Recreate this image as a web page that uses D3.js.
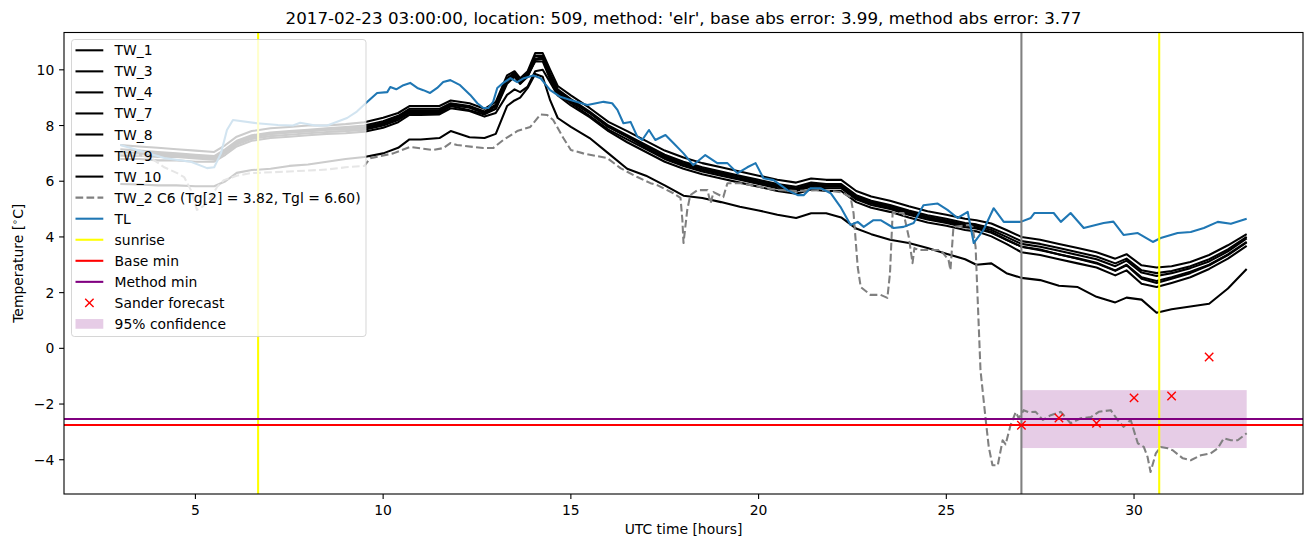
<!DOCTYPE html>
<html><head><meta charset="utf-8">
<script src="https://cdn.jsdelivr.net/npm/d3@7"></script>
<style>body{margin:0;background:#fff}svg{display:block}text{font-family:"DejaVu Sans",sans-serif;fill:#000}</style>
</head><body><svg id="c" width="1313" height="547"></svg>
<script>
// ---------------- data ----------------
const titleText = "2017-02-23 03:00:00, location: 509, method: 'elr', base abs error: 3.99, method abs error: 3.77";
const xTicks = [5, 10, 15, 20, 25, 30];
const yTicks = [-4, -2, 0, 2, 4, 6, 8, 10];

const twTimes = [3,3.5,4,4.5,5,5.5,5.8,6.1,6.5,7,
 7.5,8,8.5,9,9.5,10,10.4,10.7,11,11.5,
 11.8,12.3,12.7,13.0,13.3,13.5,13.65,13.85,14.05,14.25,
 14.45,14.65,15.0,15.5,16,16.5,17,17.5,18,18.5,
 19,19.5,20,20.5,21,21.4,21.8,22.2,22.6,23,
 23.5,24,24.5,25,25.5,25.8,26.2,26.6,27,27.5,
 28,28.5,29,29.5,29.8,30.2,30.6,31,31.5,32,
 32.5,33];
const tw1 = [7.3,7.25,7.2,7.15,7.1,7.05,7.3,7.6,7.8,7.9,
 7.95,8.0,8.0,8.05,8.12,8.28,8.45,8.7,8.7,8.7,
 8.9,8.8,8.6,8.85,9.8,9.95,9.7,9.95,10.6,10.6,
 10.0,9.42,9.08,8.63,8.13,7.8,7.45,7.1,6.85,6.65,
 6.5,6.35,6.2,6.05,5.95,6.1,6.05,6.05,5.65,5.45,
 5.3,5.1,4.92,4.8,4.65,4.6,4.48,4.25,4.0,3.9,
 3.75,3.6,3.45,3.22,3.38,2.98,2.9,2.95,3.1,3.35,
 3.7,4.1];
const tw3 = [7.15,7.1,7.05,7.0,6.95,6.9,7.15,7.45,7.65,7.75,
 7.8,7.85,7.9,7.95,8.0,8.15,8.35,8.6,8.6,8.6,
 8.8,8.7,8.5,8.75,9.7,9.9,9.6,9.9,10.5,10.5,
 9.85,9.3,8.95,8.5,8.0,7.65,7.3,6.95,6.7,6.5,
 6.35,6.2,6.05,5.9,5.8,5.95,5.9,5.9,5.5,5.3,
 5.15,4.95,4.78,4.65,4.5,4.45,4.32,4.1,3.85,3.75,
 3.6,3.45,3.3,3.05,3.22,2.8,2.7,2.78,2.95,3.2,
 3.55,4.0];
const tw4 = [7.05,7.0,7.0,6.95,6.9,6.85,7.1,7.4,7.6,7.7,
 7.75,7.8,7.85,7.9,7.95,8.1,8.3,8.55,8.55,8.55,
 8.75,8.65,8.45,8.7,9.65,9.85,9.55,9.85,10.4,10.45,
 9.8,9.25,8.9,8.45,7.95,7.6,7.25,6.9,6.65,6.45,
 6.3,6.15,6.0,5.85,5.75,5.9,5.85,5.85,5.45,5.25,
 5.1,4.9,4.72,4.6,4.45,4.4,4.25,4.0,3.75,3.65,
 3.5,3.35,3.2,2.95,3.15,2.72,2.6,2.7,2.88,3.12,
 3.48,3.95];
const tw7 = [6.92,6.92,6.87,6.87,6.82,6.77,7.02,7.32,7.52,7.62,
 7.67,7.72,7.77,7.8,7.85,8.0,8.2,8.45,8.45,8.45,
 8.7,8.55,8.4,8.6,9.6,9.8,9.5,9.8,10.3,10.3,
 9.65,9.15,8.8,8.35,7.85,7.5,7.15,6.8,6.55,6.35,
 6.2,6.05,5.9,5.75,5.65,5.8,5.75,5.75,5.35,5.15,
 5.0,4.8,4.63,4.5,4.35,4.3,4.15,3.9,3.65,3.55,
 3.37,3.23,3.07,2.8,3.0,2.55,2.42,2.55,2.75,3.0,
 3.37,3.82];
const tw8 = [6.8,6.8,6.75,6.75,6.7,6.7,6.95,7.25,7.45,7.55,
 7.6,7.65,7.7,7.72,7.78,7.92,8.12,8.38,8.38,8.4,
 8.62,8.52,8.32,8.45,9.1,9.3,9.2,9.4,9.95,10.0,
 9.55,9.08,8.72,8.3,7.8,7.4,7.05,6.7,6.45,6.25,
 6.1,5.95,5.8,5.65,5.55,5.7,5.65,5.65,5.25,5.05,
 4.9,4.7,4.52,4.4,4.25,4.2,4.02,3.75,3.45,3.35,
 3.2,3.05,2.9,2.62,2.8,2.32,2.2,2.35,2.55,2.85,
 3.22,3.68];
const tw9 = [7.0,6.95,6.95,6.9,6.85,6.8,7.05,7.35,7.55,7.7,
 7.75,7.8,7.85,7.85,7.9,8.05,8.25,8.5,8.5,8.5,
 8.75,8.65,8.45,8.6,9.5,9.75,9.5,9.75,10.35,10.4,
 9.75,9.2,8.85,8.45,7.95,7.6,7.2,6.85,6.6,6.4,
 6.25,6.1,5.95,5.8,5.7,5.85,5.8,5.8,5.4,5.2,
 5.05,4.85,4.68,4.55,4.4,4.35,4.18,3.9,3.65,3.52,
 3.38,3.22,3.05,2.78,2.98,2.5,2.35,2.5,2.7,2.98,
 3.35,3.8];
const tw10 = [5.9,5.88,5.85,5.85,5.82,5.82,6.0,6.3,6.4,6.45,
 6.55,6.6,6.7,6.8,6.87,7.0,7.2,7.5,7.5,7.55,
 7.8,7.58,7.55,7.7,8.7,8.9,9.0,9.35,9.85,9.75,
 8.9,8.27,7.95,7.55,7.0,6.45,6.2,5.85,5.48,5.4,
 5.25,5.08,4.95,4.8,4.68,4.85,4.85,4.7,4.3,4.1,
 3.9,3.78,3.6,3.4,3.2,3.0,3.05,2.7,2.53,2.45,
 2.25,2.2,1.85,1.65,1.82,1.75,1.28,1.4,1.5,1.6,
 2.15,2.85];

const tw2Times = [3.0,3.5,3.8,4.17,4.5,4.7,4.88,5.04,5.2,5.42,
 5.58,5.76,6.1,6.48,7.5,8.5,9.0,9.5,9.66,10.27,
 10.72,11.33,11.6,11.79,11.97,12.67,12.93,13.2,13.57,13.92,
 14.19,14.37,14.53,14.8,15.0,15.33,15.97,16.32,16.77,17.12,
 17.3,17.73,17.92,17.97,18.0,18.1,18.18,18.37,18.64,18.72,
 18.8,19.06,19.17,19.52,20.4,21.0,21.73,22.2,22.45,22.53,
 22.64,22.72,22.98,23.25,23.43,23.5,23.57,23.86,24.0,24.1,
 24.15,24.26,24.85,25.06,25.11,25.19,25.59,25.7,25.78,25.91,
 26.05,26.13,26.23,26.37,26.5,26.58,26.71,26.85,26.93,27.06,
 27.19,27.38,27.57,27.78,28.05,28.31,28.58,28.85,29.06,29.38,
 29.56,29.72,29.91,30.1,30.26,30.36,30.44,30.58,30.71,30.9,
 31.03,31.3,31.51,31.78,32.04,32.23,32.39,32.58,32.76,33.0];
const tw2Values = [7.0,6.95,6.85,6.5,6.3,6.15,5.68,4.97,5.1,5.43,
 5.8,6.04,6.2,6.29,6.35,6.42,6.5,6.55,6.83,7.0,
 7.23,7.12,7.19,7.37,7.3,7.19,7.19,7.48,7.8,7.95,
 8.4,8.38,8.2,7.55,7.12,7.0,6.83,6.47,6.15,5.93,
 5.86,5.57,5.4,4.61,3.78,4.97,5.5,5.68,5.68,5.2,
 5.61,5.43,5.93,5.93,5.7,5.65,5.68,5.6,5.43,4.85,
 2.92,2.2,1.92,1.92,1.81,2.7,4.86,4.86,4.0,3.06,
 3.6,3.53,3.53,3.17,2.81,4.36,4.43,4.36,3.64,-0.78,
 -2.58,-3.54,-4.2,-4.2,-3.3,-3.45,-2.76,-2.29,-2.51,-2.22,
 -2.29,-2.28,-2.57,-2.4,-2.28,-2.69,-2.51,-2.47,-2.28,-2.22,
 -2.57,-2.82,-2.57,-3.41,-3.54,-3.9,-4.44,-3.77,-3.54,-3.59,
 -3.66,-3.95,-4.02,-3.84,-3.77,-3.59,-3.23,-3.3,-3.3,-3.05];

const tlTimes = [3.0,3.5,4.17,4.88,5.31,5.5,5.68,5.84,6.0,6.64,
 7.2,7.6,7.79,8.2,8.51,9.04,9.3,9.58,9.84,10.11,
 10.19,10.35,10.54,10.72,10.91,11.07,11.25,11.44,11.6,11.79,
 12.05,12.32,12.51,12.67,12.8,12.93,13.04,13.2,13.39,13.57,
 13.75,14.0,14.19,14.45,14.72,14.99,15.44,15.87,16.1,16.24,
 16.4,16.59,16.77,16.9,17.08,17.25,17.52,17.73,18.0,18.26,
 18.58,18.9,19.17,19.44,19.7,19.92,20.13,20.4,20.77,21.04,
 21.2,21.38,21.65,21.92,22.18,22.45,22.64,22.8,23.06,23.25,
 23.6,23.86,24.13,24.39,24.77,25.03,25.3,25.57,25.73,25.99,
 26.26,26.53,26.98,27.25,27.35,27.86,28.05,28.31,28.66,29.19,
 29.45,29.72,30.1,30.5,30.71,31.16,31.51,31.86,32.23,32.58,33.0];
const tlValues = [7.3,7.1,6.83,6.7,6.47,6.5,7.0,7.84,8.2,8.08,
 8.02,8.0,8.1,8.0,8.0,8.27,8.5,8.85,9.17,9.2,
 9.38,9.3,9.45,9.53,9.35,9.27,9.17,9.35,9.56,9.63,
 9.45,9.1,8.8,8.63,8.63,8.85,9.35,9.53,9.7,9.56,
 9.7,9.8,9.7,9.27,9.03,8.92,8.74,8.85,8.8,8.56,
 8.08,8.13,7.6,7.48,7.84,7.48,7.66,7.37,7.0,6.58,
 6.94,6.65,6.65,6.29,6.5,6.65,6.11,6.04,5.68,5.5,
 5.5,5.75,5.75,5.57,5.08,4.43,4.54,4.36,4.6,4.6,
 4.32,4.36,4.5,5.14,5.2,4.97,4.68,4.9,3.78,4.25,
 5.03,4.54,4.54,4.68,4.86,4.86,4.54,4.86,4.32,4.5,
 4.55,4.07,4.14,3.82,3.96,4.14,4.18,4.32,4.54,4.47,4.65];

const sunriseTimes = [6.67, 30.67];
const forecastTime = 27;
const baseMin = -2.75;
const methodMin = -2.54;
const sanderTimes = [27, 28, 29, 30, 31, 32];
const sanderValues = [-2.76, -2.5, -2.69, -1.78, -1.71, -0.31];
const confTimes = [27, 33];
const confRange = [-3.58, -1.5];

const twNames = ["TW_1", "TW_3", "TW_4", "TW_7", "TW_8", "TW_9", "TW_10"];
const legendLabels = ["TW_1","TW_3","TW_4","TW_7","TW_8","TW_9","TW_10",
 "TW_2 C6 (Tg[2] = 3.82, Tgl = 6.60)","TL","sunrise","Base min","Method min","Sander forecast","95% confidence"];

// ---------------- drawing ----------------
const svg = d3.select("#c");
const L = 64, R = 1303, T = 32.5, B = 494;
const x = d3.scaleLinear().domain([1.5, 34.5]).range([L, R]);
const y = d3.scaleLinear().domain([-5.23, 11.34]).range([B, T]);
const LW = 2.08;

svg.append("defs").append("clipPath").attr("id", "clip")
  .append("rect").attr("x", L).attr("y", T).attr("width", R - L).attr("height", B - T);
const g = svg.append("g").attr("clip-path", "url(#clip)");

// confidence band
g.append("rect")
  .attr("x", x(confTimes[0])).attr("width", x(confTimes[1]) - x(confTimes[0]))
  .attr("y", y(confRange[1])).attr("height", y(confRange[0]) - y(confRange[1]))
  .attr("fill", "purple").attr("fill-opacity", 0.2);

const line = d3.line().x(d => x(d[0])).y(d => y(d[1]));
const twSeries = [tw1, tw3, tw4, tw7, tw8, tw9, tw10];
twSeries.forEach(vals => {
  g.append("path").datum(d3.zip(twTimes, vals)).attr("d", line)
    .attr("fill", "none").attr("stroke", "black").attr("stroke-width", LW)
    .attr("stroke-linejoin", "round");
});
g.append("path").datum(d3.zip(tw2Times, tw2Values)).attr("d", line)
  .attr("fill", "none").attr("stroke", "#808080").attr("stroke-width", LW)
  .attr("stroke-dasharray", "7.7,3.3").attr("stroke-linejoin", "round");
g.append("path").datum(d3.zip(tlTimes, tlValues)).attr("d", line)
  .attr("fill", "none").attr("stroke", "#1f77b4").attr("stroke-width", LW)
  .attr("stroke-linejoin", "round");

sunriseTimes.forEach(t => {
  g.append("line").attr("x1", x(t)).attr("x2", x(t)).attr("y1", T).attr("y2", B)
    .attr("stroke", "yellow").attr("stroke-width", LW);
});
g.append("line").attr("x1", x(forecastTime)).attr("x2", x(forecastTime)).attr("y1", T).attr("y2", B)
  .attr("stroke", "#808080").attr("stroke-width", LW);
g.append("line").attr("x1", L).attr("x2", R).attr("y1", y(baseMin)).attr("y2", y(baseMin))
  .attr("stroke", "red").attr("stroke-width", LW);
g.append("line").attr("x1", L).attr("x2", R).attr("y1", y(methodMin)).attr("y2", y(methodMin))
  .attr("stroke", "purple").attr("stroke-width", LW);

function cross(sel, cx, cy, s) {
  sel.append("path").attr("d", `M${cx - s},${cy - s}L${cx + s},${cy + s}M${cx - s},${cy + s}L${cx + s},${cy - s}`)
    .attr("stroke", "red").attr("stroke-width", 1.4).attr("fill", "none");
}
sanderTimes.forEach((t, i) => cross(g, x(t), y(sanderValues[i]), 4.2));

// ---------------- legend ----------------
const lg = svg.append("g");
lg.append("rect").attr("x", 71.5).attr("y", 39.5).attr("width", 294.5).attr("height", 297)
  .attr("rx", 3).attr("fill", "white").attr("fill-opacity", 0.8)
  .attr("stroke", "#cccccc").attr("stroke-opacity", 0.8).attr("stroke-width", 1);
const hx0 = 75.5, hx1 = 103.3, tx = 114.6, ry0 = 50.3, rstep = 21.05;
legendLabels.forEach((lab, i) => {
  const cy = ry0 + i * rstep;
  if (i < 7) {
    lg.append("line").attr("x1", hx0).attr("x2", hx1).attr("y1", cy).attr("y2", cy).attr("stroke", "black").attr("stroke-width", LW);
  } else if (i === 7) {
    lg.append("line").attr("x1", hx0).attr("x2", hx1).attr("y1", cy).attr("y2", cy).attr("stroke", "#808080").attr("stroke-width", LW).attr("stroke-dasharray", "7.7,3.3");
  } else if (i === 8) {
    lg.append("line").attr("x1", hx0).attr("x2", hx1).attr("y1", cy).attr("y2", cy).attr("stroke", "#1f77b4").attr("stroke-width", LW);
  } else if (i === 9) {
    lg.append("line").attr("x1", hx0).attr("x2", hx1).attr("y1", cy).attr("y2", cy).attr("stroke", "yellow").attr("stroke-width", LW);
  } else if (i === 10) {
    lg.append("line").attr("x1", hx0).attr("x2", hx1).attr("y1", cy).attr("y2", cy).attr("stroke", "red").attr("stroke-width", LW);
  } else if (i === 11) {
    lg.append("line").attr("x1", hx0).attr("x2", hx1).attr("y1", cy).attr("y2", cy).attr("stroke", "purple").attr("stroke-width", LW);
  } else if (i === 12) {
    cross(lg, (hx0 + hx1) / 2, cy, 4.2);
  } else {
    lg.append("rect").attr("x", hx0).attr("y", cy - 4.9).attr("width", hx1 - hx0).attr("height", 9.7)
      .attr("fill", "purple").attr("fill-opacity", 0.2);
  }
  lg.append("text").attr("x", tx).attr("y", cy).attr("dy", "0.36em").attr("font-size", 13.9).text(lab);
});

// ---------------- axes ----------------
const ax = svg.append("g");
ax.append("rect").attr("x", L).attr("y", T).attr("width", R - L).attr("height", B - T)
  .attr("fill", "none").attr("stroke", "black").attr("stroke-width", 1.1);
xTicks.forEach(t => {
  ax.append("line").attr("x1", x(t)).attr("x2", x(t)).attr("y1", B).attr("y2", B + 4.9).attr("stroke", "black").attr("stroke-width", 1.1);
  ax.append("text").attr("x", x(t)).attr("y", B + 9.7).attr("dy", "0.8em").attr("text-anchor", "middle").attr("font-size", 13.9).text(d3.format("d")(t));
});
yTicks.forEach(t => {
  ax.append("line").attr("x1", L - 4.9).attr("x2", L).attr("y1", y(t)).attr("y2", y(t)).attr("stroke", "black").attr("stroke-width", 1.1);
  ax.append("text").attr("x", L - 9.7).attr("y", y(t)).attr("dy", "0.36em").attr("text-anchor", "end").attr("font-size", 13.9).text(d3.format("d")(t));
});
ax.append("text").attr("x", (L + R) / 2).attr("y", 534).attr("text-anchor", "middle").attr("font-size", 13.9).text("UTC time [hours]");
const yl = ax.append("text").attr("transform", `translate(23,${(T + B) / 2}) rotate(-90)`).attr("text-anchor", "middle").attr("font-size", 13.9);
yl.append("tspan").text("Temperature [");
yl.append("tspan").attr("font-size", 9.7).attr("dy", -5).text("\u2218");
yl.append("tspan").attr("dy", 5).text("C]");
svg.append("text").attr("x", (L + R) / 2).attr("y", 24).attr("text-anchor", "middle").attr("font-size", 16.7).text(titleText);
</script></body></html>
